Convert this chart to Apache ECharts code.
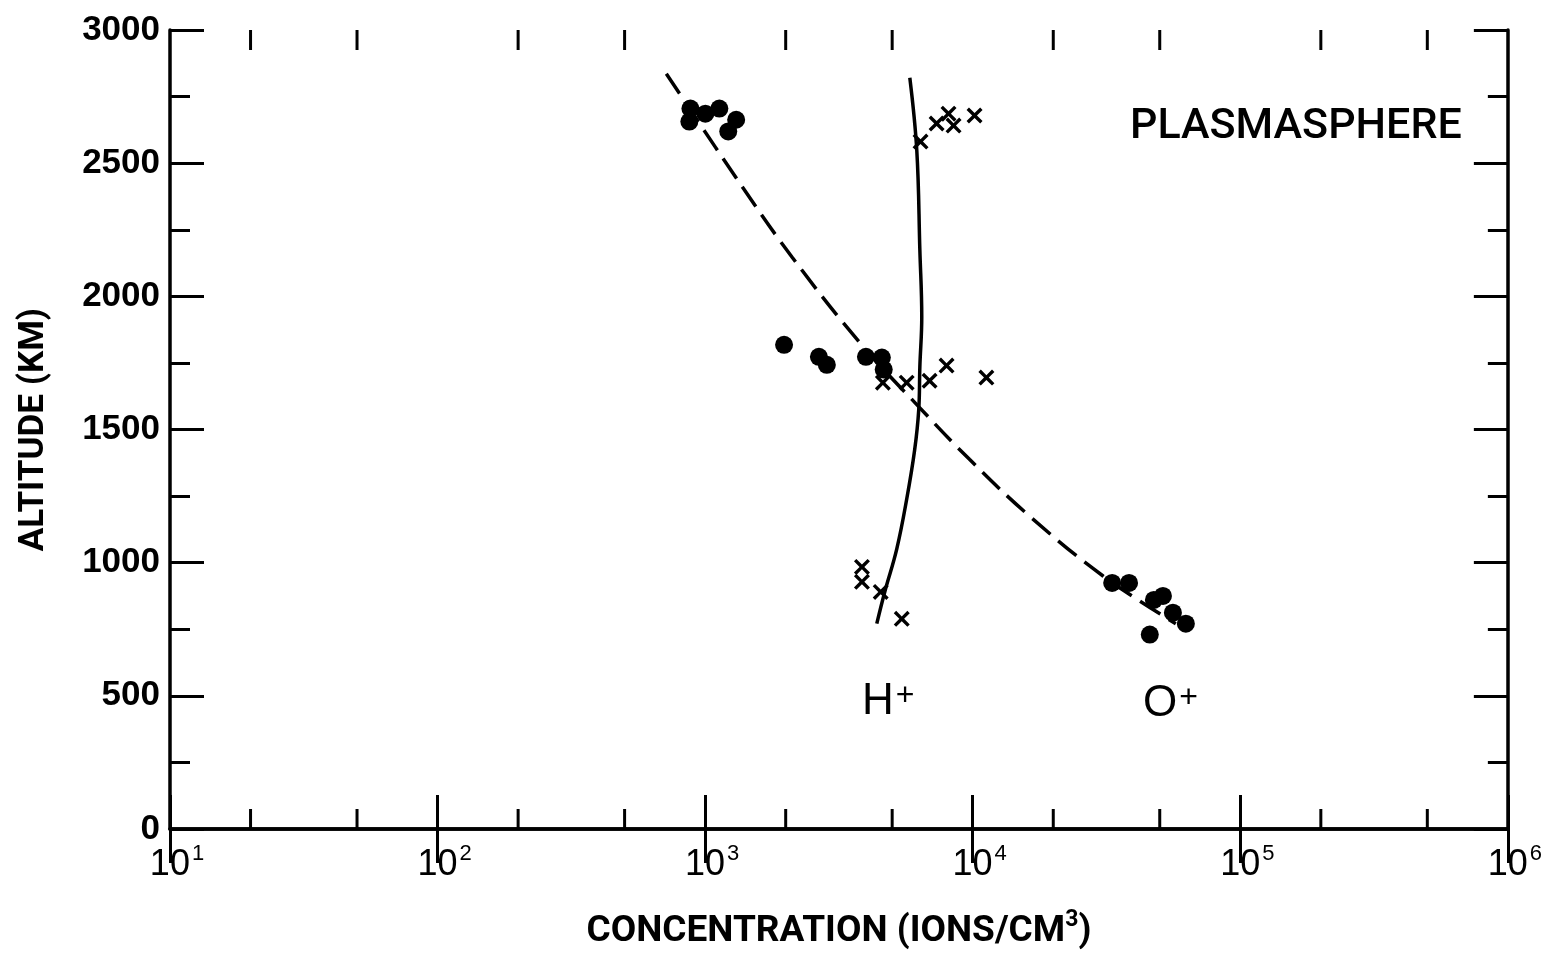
<!DOCTYPE html>
<html>
<head>
<meta charset="utf-8">
<script src="https://cdn.jsdelivr.net/npm/echarts@6/dist/echarts.min.js"></script>
<style>
  html, body { margin: 0; padding: 0; background: #fff; }
  #main { width: 1545px; height: 955px; }
</style>
</head>
<body>
<div id="main"></div>
<script>
// O+ measurements (dots)
var oPlusConc = [881, 873, 1002, 1130, 1220, 1306, 1972, 2662, 2850, 3990, 4575, 4650, 33200, 38400, 47550, 51400, 56000, 62600, 45900];
var oPlusAlt = [2705, 2656, 2686, 2705, 2619, 2663, 1818, 1773, 1743, 1773, 1770, 1725, 924, 924, 860, 875, 812, 771, 730];

// H+ measurements (crosses)
var hPlusConc = [6383, 7330, 8120, 8480, 10160, 4616, 5665, 6900, 7985, 11250, 3855, 3855, 4530, 5430];
var hPlusAlt = [2581, 2649, 2686, 2641, 2679, 1676, 1676, 1683, 1740, 1695, 984, 928, 890, 789];

// hand drawn curves
var oCurveConc = [716, 1341, 2114, 3785, 6280, 9725, 16300, 30700, 57400];
var oCurveAlt = [2836, 2428, 2147, 1826, 1586, 1388, 1175, 950, 771];
var hCurveConc = [5820, 6180, 6345, 6450, 6345, 6285, 6070, 5665, 5200, 4690, 4380];
var hCurveAlt = [2821, 2548, 2174, 1923, 1736, 1575, 1425, 1238, 1051, 890, 771];

// ticks at 2 and 5 in each decade
var xMinorTicks = [20, 50, 200, 500, 2000, 5000, 20000, 50000, 200000, 500000];

function pairs(xs, ys) {
  var out = [];
  for (var i = 0; i < xs.length; i++) out.push([xs[i], ys[i]]);
  return out;
}

var myChart = echarts.init(document.getElementById('main'));

var axisLine = { show: true, lineStyle: { color: '#000', width: 3.5 } };
var axisTick = { show: true, inside: true, length: 34, lineStyle: { color: '#000', width: 3 } };
var minorTick = { show: true, splitNumber: 2, length: 20, lineStyle: { color: '#000', width: 3 } };
var crossPath = 'path://M0,3L3,0L10,7L17,0L20,3L13,10L20,17L17,20L10,13L3,20L0,17L7,10Z';

option = {
  backgroundColor: '#fff',
  animation: false,
  grid: { left: 170, right: 22, top: 30, bottom: 108 },
  xAxis: [
    {
      type: 'log',
      logBase: 10,
      min: 10,
      max: 1000000,
      position: 'bottom',
      axisLine: axisLine,
      axisTick: axisTick,
      splitLine: { show: false },
      axisLabel: {
        margin: 14,
        color: '#000',
        formatter: function (v) {
          var e = Math.round(Math.log10(v));
          return '{b|10}{s|' + e + '}';
        },
        rich: {
          b: { fontFamily: 'Liberation Sans', fontSize: 36, color: '#000', padding: [0, 0, 0, 14] },
          s: { fontFamily: 'Liberation Sans', fontSize: 22, color: '#000', verticalAlign: 'bottom', padding: [0, 0, 22, 2] }
        }
      },
      name: '{a|CONCENTRATION (IONS/CM}{s|3}{a|)}',
      nameLocation: 'middle',
      nameGap: 80,
      nameTextStyle: {
        rich: {
          a: { fontFamily: 'Roboto', fontWeight: 'bold', fontSize: 37, color: '#000' },
          s: { fontFamily: 'Roboto', fontWeight: 'bold', fontSize: 23, color: '#000', verticalAlign: 'bottom', padding: [0, 0, 22, 0] }
        }
      }
    },
    {
      type: 'log',
      logBase: 10,
      min: 10,
      max: 1000000,
      position: 'top',
      axisLine: axisLine,
      axisTick: axisTick,
      axisLabel: { show: false },
      splitLine: { show: false }
    }
  ],
  yAxis: [
    {
      type: 'value',
      min: 0,
      max: 3000,
      interval: 500,
      position: 'left',
      axisLine: axisLine,
      axisTick: axisTick,
      minorTick: minorTick,
      splitLine: { show: false },
      axisLabel: {
        margin: 10,
        color: '#000',
        fontFamily: 'Liberation Sans',
        fontWeight: 'bold',
        fontSize: 35,
        formatter: function (v) { return String(v); }
      },
      name: 'ALTITUDE (KM)',
      nameLocation: 'middle',
      nameGap: 118,
      nameRotate: 90,
      nameTextStyle: { fontFamily: 'Roboto', fontWeight: 'bold', fontSize: 35, color: '#000' }
    },
    {
      type: 'value',
      min: 0,
      max: 3000,
      interval: 500,
      position: 'right',
      axisLine: axisLine,
      axisTick: axisTick,
      minorTick: minorTick,
      splitLine: { show: false },
      axisLabel: { show: false }
    }
  ],
  graphic: [
    {
      type: 'text',
      left: 1130,
      top: 106,
      style: { text: 'PLASMASPHERE', fontFamily: 'Roboto', fontWeight: 500, fontSize: 43, fill: '#000' }
    },
    {
      type: 'text',
      left: 862,
      top: 680,
      style: {
        text: '{b|H}{s|+}',
        rich: {
          b: { fontFamily: 'Liberation Sans', fontSize: 44, fill: '#000' },
          s: { fontFamily: 'Liberation Sans', fontSize: 32, fill: '#000', verticalAlign: 'top', padding: [0, 0, 0, 2] }
        }
      }
    },
    {
      type: 'text',
      left: 1143,
      top: 682,
      style: {
        text: '{b|O}{s|+}',
        rich: {
          b: { fontFamily: 'Liberation Sans', fontSize: 44, fill: '#000' },
          s: { fontFamily: 'Liberation Sans', fontSize: 32, fill: '#000', verticalAlign: 'top', padding: [0, 0, 0, 2] }
        }
      }
    }
  ],
  series: [
    {
      name: 'O+ curve',
      type: 'line',
      data: pairs(oCurveConc, oCurveAlt),
      smooth: 0.4,
      showSymbol: false,
      lineStyle: { color: '#000', width: 3.5, type: [24, 10] }
    },
    {
      name: 'H+ curve',
      type: 'line',
      data: pairs(hCurveConc, hCurveAlt),
      smooth: 0.4,
      showSymbol: false,
      lineStyle: { color: '#000', width: 3.5 }
    },
    {
      name: 'O+',
      type: 'scatter',
      data: pairs(oPlusConc, oPlusAlt),
      symbol: 'circle',
      symbolSize: 18,
      itemStyle: { color: '#000', opacity: 1 }
    },
    {
      name: 'H+',
      type: 'scatter',
      data: pairs(hPlusConc, hPlusAlt),
      symbol: crossPath,
      symbolSize: 16,
      itemStyle: { color: '#000', opacity: 1 }
    },
    {
      name: 'x minor ticks',
      type: 'custom',
      silent: true,
      clip: false,
      data: xMinorTicks.map(function (v) { return [v, 0]; }),
      renderItem: function (params, api) {
        var v = api.value(0);
        var b = api.coord([v, 0]);
        var t = api.coord([v, 3000]);
        return {
          type: 'group',
          children: [
            { type: 'line', shape: { x1: b[0], y1: b[1], x2: b[0], y2: b[1] - 20 }, style: { stroke: '#000', lineWidth: 3 } },
            { type: 'line', shape: { x1: t[0], y1: t[1], x2: t[0], y2: t[1] + 20 }, style: { stroke: '#000', lineWidth: 3 } }
          ]
        };
      }
    }
  ]
};

myChart.setOption(option);
</script>
</body>
</html>
